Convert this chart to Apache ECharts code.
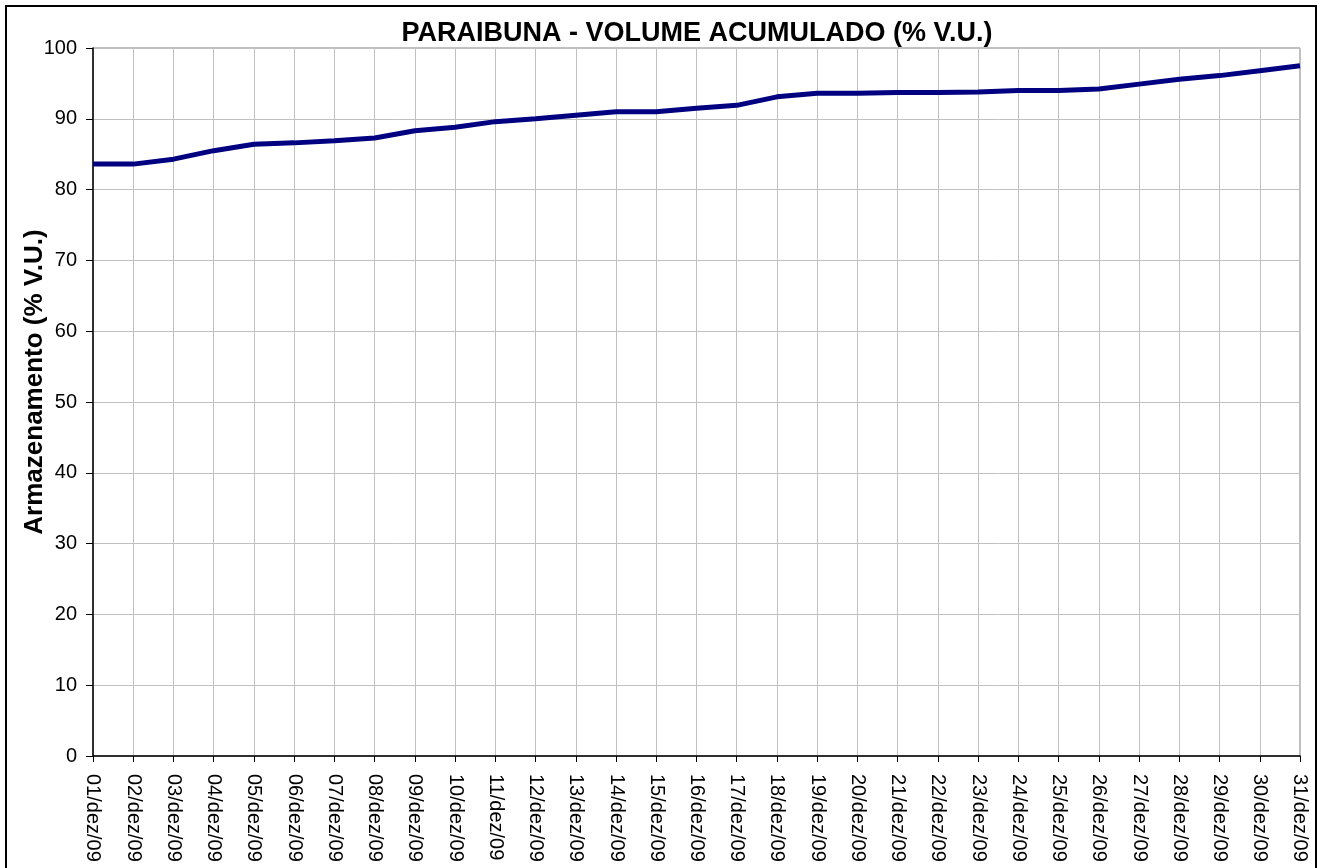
<!DOCTYPE html>
<html>
<head>
<meta charset="utf-8">
<script src="https://cdn.jsdelivr.net/npm/echarts@6/dist/echarts.min.js"></script>
<style>
  html, body { margin: 0; padding: 0; background: #fff; }
  #chart { width: 1320px; height: 868px; }
</style>
</head>
<body>
<div id="chart"></div>
<script>
// days of December 2009
const days = [
  "01/dez/09", "02/dez/09", "03/dez/09", "04/dez/09", "05/dez/09", "06/dez/09",
  "07/dez/09", "08/dez/09", "09/dez/09", "10/dez/09", "11/dez/09", "12/dez/09",
  "13/dez/09", "14/dez/09", "15/dez/09", "16/dez/09", "17/dez/09", "18/dez/09",
  "19/dez/09", "20/dez/09", "21/dez/09", "22/dez/09", "23/dez/09", "24/dez/09",
  "25/dez/09", "26/dez/09", "27/dez/09", "28/dez/09", "29/dez/09", "30/dez/09",
  "31/dez/09"
];

// stored volume, % of useful volume
const volume = [
  83.6, 83.6, 84.3, 85.5, 86.4, 86.6, 86.9, 87.3, 88.3, 88.8, 89.6, 90.0,
  90.5, 91.0, 91.0, 91.5, 91.9, 93.1, 93.6, 93.6, 93.7, 93.7, 93.8, 94.0,
  94.0, 94.2, 94.9, 95.6, 96.1, 96.8, 97.5
];

const yTicks = [0, 10, 20, 30, 40, 50, 60, 70, 80, 90, 100];

const chart = echarts.init(document.getElementById("chart"));

const option = {
  animation: false,
  backgroundColor: "#fff",
  textStyle: { fontFamily: "Liberation Sans, Arial, sans-serif", color: "#000" },
  title: {
    text: "PARAIBUNA - VOLUME ACUMULADO (% V.U.)",
    left: 692,
    top: 15,
    textAlign: "center",
    textStyle: { fontSize: 27, fontWeight: "bold", color: "#000" }
  },
  graphic: [
    {
      type: "rect",
      shape: { x: 6, y: 6, width: 1310, height: 900 },
      style: { fill: "none", stroke: "#000", lineWidth: 2 },
      silent: true
    }
  ],
  grid: {
    left: 93,
    right: 20,
    top: 48,
    bottom: 112,
    show: true,
    borderColor: "#808080",
    borderWidth: 1
  },
  xAxis: {
    type: "category",
    data: days,
    boundaryGap: false,
    axisLine: { lineStyle: { color: "#000", width: 1.5 } },
    axisTick: { show: true, length: 6, inside: false, lineStyle: { color: "#000" } },
    axisLabel: { rotate: -90, fontSize: 20, color: "#000", margin: 18, interval: 0 },
    splitLine: { show: true, lineStyle: { color: "#c0c0c0", width: 1 } }
  },
  yAxis: {
    type: "value",
    min: yTicks[0],
    max: yTicks[yTicks.length - 1],
    interval: 10,
    name: "Armazenamento (% V.U.)",
    nameLocation: "middle",
    nameGap: 45,
    nameMoveOverlap: false,
    nameTextStyle: { fontSize: 26, fontWeight: "bold", color: "#000", padding: [0, 0, 0, 40] },
    axisLine: { show: true, lineStyle: { color: "#000", width: 1.5 } },
    axisTick: { show: true, length: 7, inside: false, lineStyle: { color: "#000" } },
    axisLabel: { fontSize: 20, color: "#000", margin: 16 },
    splitLine: { show: true, lineStyle: { color: "#c0c0c0", width: 1 } }
  },
  series: [
    {
      name: "Volume",
      type: "line",
      data: volume,
      showSymbol: false,
      symbol: "none",
      lineStyle: { color: "#000080", width: 5 },
      itemStyle: { color: "#000080" }
    }
  ]
};

chart.setOption(option);
</script>
</body>
</html>
